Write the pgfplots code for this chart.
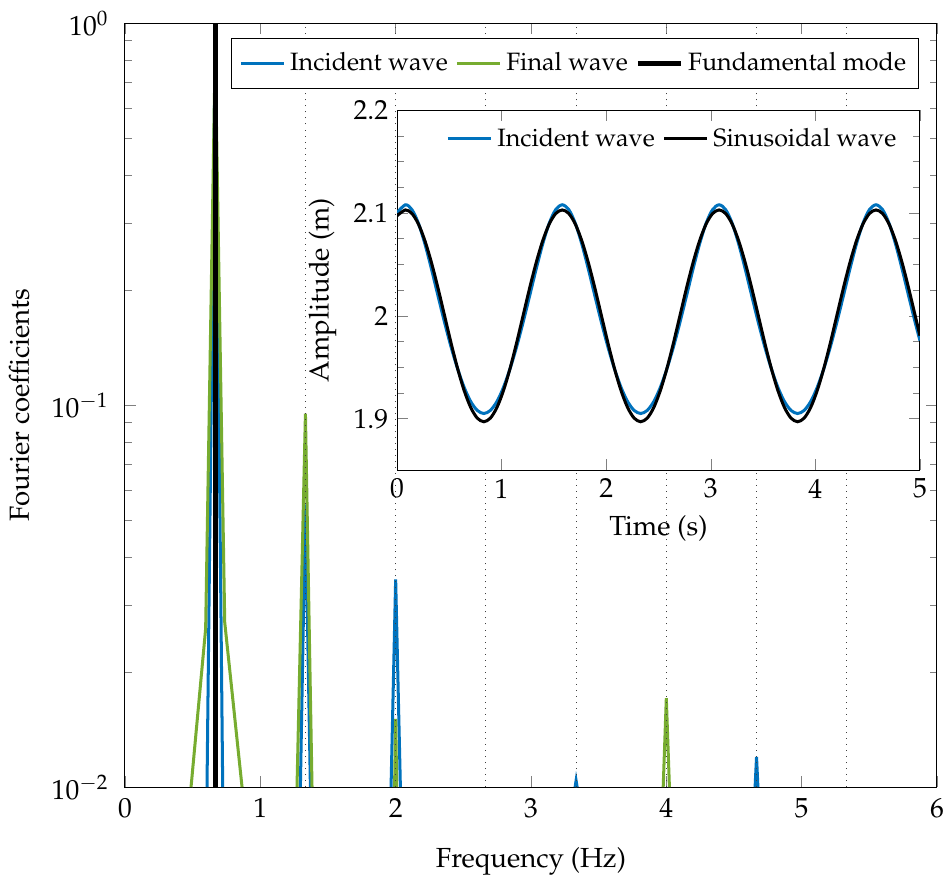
\documentclass[border=0pt]{standalone}
\usepackage[T1]{fontenc}
\usepackage{mathpazo}
\usepackage{pgfplots}
\usepackage{pgfplotstable}
\pgfplotsset{compat=1.18}
\definecolor{mblue}{RGB}{0,114,189}
\definecolor{mgreen}{RGB}{119,172,48}
\newlength\mainW \setlength\mainW{323.5pt}
\newlength\mainH \setlength\mainH{304.4pt}
\pgfplotsset{
  bigfont/.style={
    tick label style={font=\fontsize{11}{13.5}\selectfont},
    label style={font=\fontsize{11}{13.5}\selectfont},
  }
}
\pgfplotstableread{
t blue black
0 2.1003 2.0973
0.08 2.1080 2.1030
0.1425 2.1033 2.0995
0.205 2.0899 2.0892
0.2675 2.0697 2.0728
0.33 2.0453 2.0515
0.3925 2.0192 2.0267
0.455 1.9935 2.0000
0.5175 1.9695 1.9733
0.58 1.9483 1.9485
0.6425 1.9303 1.9272
0.705 1.9166 1.9108
0.7675 1.9080 1.9005
0.83 1.9050 1.8970
0.8925 1.9080 1.9005
0.955 1.9166 1.9108
1.0175 1.9303 1.9272
1.08 1.9483 1.9485
1.1425 1.9695 1.9733
1.205 1.9935 2.0000
1.2675 2.0192 2.0267
1.33 2.0453 2.0515
1.3925 2.0697 2.0728
1.455 2.0899 2.0892
1.5175 2.1033 2.0995
1.58 2.1080 2.1030
1.6425 2.1033 2.0995
1.705 2.0899 2.0892
1.7675 2.0697 2.0728
1.83 2.0453 2.0515
1.8925 2.0192 2.0267
1.955 1.9935 2.0000
2.0175 1.9695 1.9733
2.08 1.9483 1.9485
2.1425 1.9303 1.9272
2.205 1.9166 1.9108
2.2675 1.9080 1.9005
2.33 1.9050 1.8970
2.3925 1.9080 1.9005
2.455 1.9166 1.9108
2.5175 1.9303 1.9272
2.58 1.9483 1.9485
2.6425 1.9695 1.9733
2.705 1.9935 2.0000
2.7675 2.0192 2.0267
2.83 2.0453 2.0515
2.8925 2.0697 2.0728
2.955 2.0899 2.0892
3.0175 2.1033 2.0995
3.08 2.1080 2.1030
3.1425 2.1033 2.0995
3.205 2.0899 2.0892
3.2675 2.0697 2.0728
3.33 2.0453 2.0515
3.3925 2.0192 2.0267
3.455 1.9935 2.0000
3.5175 1.9695 1.9733
3.58 1.9483 1.9485
3.6425 1.9303 1.9272
3.705 1.9166 1.9108
3.7675 1.9080 1.9005
3.83 1.9050 1.8970
3.8925 1.9080 1.9005
3.955 1.9166 1.9108
4.0175 1.9303 1.9272
4.08 1.9483 1.9485
4.1425 1.9695 1.9733
4.205 1.9935 2.0000
4.2675 2.0192 2.0267
4.33 2.0453 2.0515
4.3925 2.0697 2.0728
4.455 2.0899 2.0892
4.5175 2.1033 2.0995
4.58 2.1080 2.1030
4.6425 2.1033 2.0995
4.705 2.0899 2.0892
4.7675 2.0697 2.0728
4.83 2.0453 2.0515
4.8925 2.0192 2.0267
4.955 1.9935 2.0000
5 1.9760 1.9807
}\wavetable
\begin{document}
\begin{tikzpicture}
\begin{axis}[
  name=main,
  scale only axis,
  width=\mainW, height=\mainH,
  bigfont,
  ymode=log,
  xmin=0, xmax=6, ymin=0.01, ymax=1,
  xtick={0,1,2,3,4,5,6},
  xlabel={Frequency (Hz)},
  ylabel={Fourier coefficients},
  xlabel style={yshift=-6.5pt, inner sep=1.67pt},
  ylabel style={yshift=2pt},
  yticklabel style={xshift=-3pt},
  xticklabel style={yshift=-1pt},
  legend columns=3,
  legend cell align=left,
  legend style={at={(0.978,0.98)}, anchor=north east, inner ysep=3.5pt,
    /tikz/every even column/.append style={column sep=0.1em}},
  tick align=inside,
]
% Incident wave
\addplot[mblue, line width=1.2pt] coordinates {(0.606,0.01) (0.6667,0.9) (0.722,0.01)};
\addlegendentry{Incident wave}
\addplot[mblue, line width=1.2pt, forget plot] coordinates {(1.296,0.01) (1.3333,0.055) (1.370,0.01)};
\addplot[mblue, line width=1.2pt, forget plot] coordinates {(1.966,0.01) (2.0,0.035) (2.035,0.01)};
\addplot[mblue, line width=1.2pt, forget plot] coordinates {(3.326,0.01) (3.3333,0.0104) (3.341,0.01)};
\addplot[mblue, line width=1.2pt, forget plot] coordinates {(4.656,0.01) (4.6667,0.0120) (4.677,0.01)};
% Final wave
\addplot[mgreen, line width=1.2pt] coordinates {(0.488,0.01) (0.596,0.026) (0.6667,0.85) (0.737,0.027) (0.865,0.01)};
\addlegendentry{Final wave}
\addplot[mgreen, line width=1.2pt, forget plot] coordinates {(1.271,0.01) (1.3333,0.095) (1.382,0.01)};
\addplot[mgreen, line width=1.2pt, forget plot] coordinates {(1.992,0.01) (2.0,0.0151) (2.008,0.01)};
\addplot[mgreen, line width=1.2pt, forget plot] coordinates {(3.977,0.01) (4.0,0.0171) (4.023,0.01)};
% Fundamental mode
\addplot[black, line width=1.9pt] coordinates {(0.6667,0.01) (0.6667,1)};
\addlegendentry{Fundamental mode}
\pgfplotsinvokeforeach{1.3333,2,2.6667,3.3333,4,4.6667,5.3333}{
  \addplot[black!75, dotted, thin, forget plot] coordinates {(#1,0.01) (#1,1)};
}
\end{axis}
\begin{axis}[
  scale only axis,
  at={(0.335\mainW,0.415\mainH)}, anchor=south west,
  width=0.644\mainW, height=0.471\mainH,
  bigfont,
  xmin=0, xmax=5, ymin=1.85, ymax=2.2,
  xtick={0,1,2,3,4,5},
  ytick={1.9,2,2.1,2.2},
  minor y tick num=3,
  xlabel={Time (s)},
  ylabel={Amplitude (m)},
  axis background/.style={fill=white},
  legend columns=2,
  legend style={at={(0.98,0.98)}, anchor=north east, draw=none, fill=none,
    /tikz/every even column/.append style={column sep=0.1em}},
  tick align=inside,
]
\addplot[mblue, line width=1.2pt, smooth] table[x=t, y=blue] {\wavetable};
\addlegendentry{Incident wave}
\addplot[black, line width=1.2pt, smooth] table[x=t, y=black] {\wavetable};
\addlegendentry{Sinusoidal wave}
\end{axis}
\pgfresetboundingbox
\path[use as bounding box] ([xshift=-49.8pt,yshift=-36.7pt]main.south west) rectangle ([xshift=2.8pt,yshift=9.2pt]main.north east);
\end{tikzpicture}
\end{document}
